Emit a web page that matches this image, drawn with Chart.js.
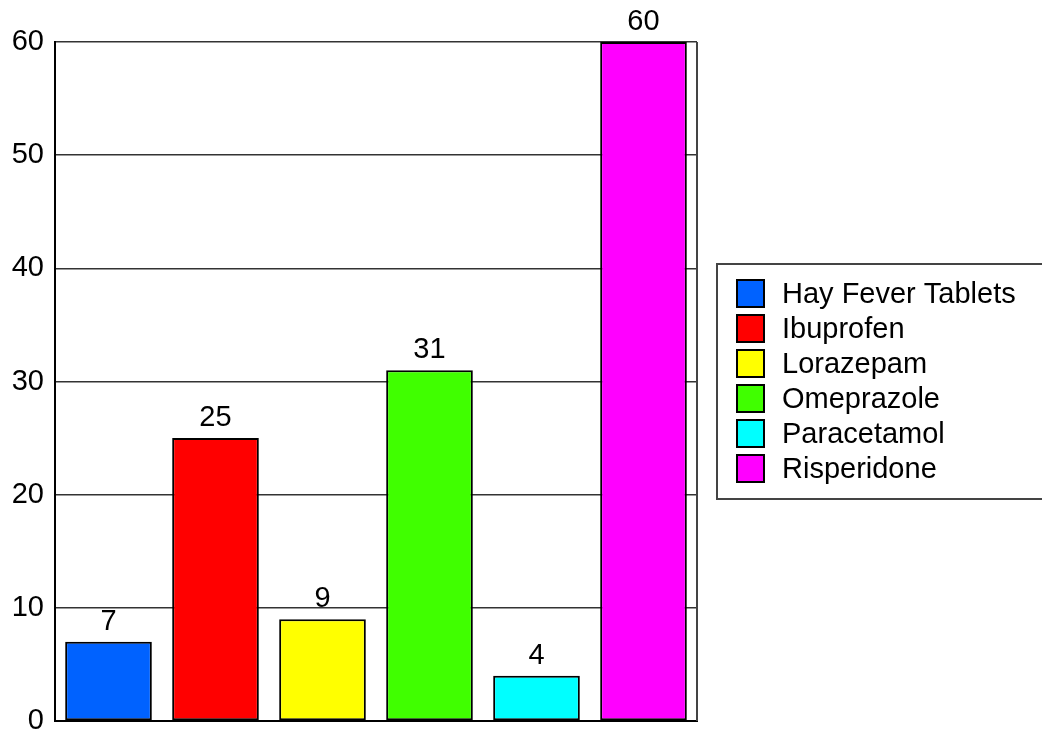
<!DOCTYPE html>
<html>
<head>
<meta charset="utf-8">
<title>Medication counts</title>
<script src="https://cdn.jsdelivr.net/npm/chart.js@4/dist/chart.umd.min.js"></script>
<style>
  html, body { margin: 0; padding: 0; background: #ffffff; }
  #wrap { width: 1042px; height: 735px; position: relative; }
</style>
</head>
<body>
<div id="wrap"><canvas id="medChart"></canvas></div>
<script>
// chart data
const medicines = ['Hay Fever Tablets', 'Ibuprofen', 'Lorazepam', 'Omeprazole', 'Paracetamol', 'Risperidone'];
const counts = [7, 25, 9, 31, 4, 60];
const barColors = ['#0062ff', '#ff0000', '#ffff00', '#40ff00', '#00ffff', '#ff00ff'];
const yTicks = [0, 10, 20, 30, 40, 50, 60];

const FONT = '"Liberation Sans", Arial, sans-serif';
const FONT_SIZE = 29;

// value labels above each bar
const valueLabels = {
  id: 'valueLabels',
  afterDatasetsDraw(chart) {
    const ctx = chart.ctx;
    const meta = chart.getDatasetMeta(0);
    ctx.save();
    ctx.font = FONT_SIZE + 'px ' + FONT;
    ctx.fillStyle = '#000';
    ctx.textAlign = 'center';
    ctx.textBaseline = 'alphabetic';
    meta.data.forEach((bar, i) => {
      ctx.fillText(String(counts[i]), bar.x, bar.y - 12);
    });
    ctx.restore();
  }
};

// right edge of the plot frame
const plotFrame = {
  id: 'plotFrame',
  beforeDatasetsDraw(chart) {
    const { ctx, chartArea } = chart;
    ctx.save();
    ctx.strokeStyle = '#444';
    ctx.lineWidth = 2;
    ctx.beginPath();
    ctx.moveTo(chartArea.right, chartArea.top);
    ctx.lineTo(chartArea.right, chartArea.bottom);
    ctx.stroke();
    ctx.restore();
  }
};

// boxed legend on the right side
const boxLegend = {
  id: 'boxLegend',
  afterDraw(chart) {
    const { ctx, chartArea } = chart;
    const left = chartArea.right + 20;
    const boxH = 235;
    const top = Math.round((chartArea.top + chartArea.bottom) / 2 - boxH / 2);
    ctx.save();
    ctx.strokeStyle = '#444';
    ctx.lineWidth = 2;
    ctx.strokeRect(left, top, chart.width - left + 10, boxH);

    ctx.font = FONT_SIZE + 'px ' + FONT;
    ctx.textAlign = 'left';
    ctx.textBaseline = 'middle';
    medicines.forEach((name, i) => {
      const y = top + 16 + i * 35;
      ctx.fillStyle = barColors[i];
      ctx.fillRect(left + 20, y, 27, 27);
      ctx.strokeStyle = '#000';
      ctx.lineWidth = 2;
      ctx.strokeRect(left + 20, y, 27, 27);
      ctx.fillStyle = '#000';
      ctx.fillText(name, left + 65, y + 15);
    });
    ctx.restore();
  }
};

new Chart(document.getElementById('medChart'), {
  type: 'bar',
  data: {
    labels: medicines,
    datasets: [{
      data: counts,
      backgroundColor: barColors,
      borderColor: '#000',
      borderWidth: 2,
      borderSkipped: false,
      barPercentage: 0.81,
      categoryPercentage: 1.0
    }]
  },
  options: {
    responsive: true,
    maintainAspectRatio: false,
    animation: false,
    layout: { padding: { top: 42, right: 345, bottom: 14, left: 0 } },
    plugins: {
      legend: { display: false },
      tooltip: { enabled: false }
    },
    scales: {
      x: {
        ticks: { display: false },
        grid: { display: false, drawTicks: false },
        border: { display: true, color: '#000', width: 2 },
        afterFit(scale) {
          scale.height = 0;
          scale.paddingLeft = 0;
          scale.paddingRight = 0;
        }
      },
      y: {
        min: 0,
        max: 60,
        afterBuildTicks(scale) { scale.ticks = yTicks.map(v => ({ value: v })); },
        ticks: {
          color: '#000',
          padding: 11,
          font: { family: FONT, size: FONT_SIZE }
        },
        grid: { color: '#333', lineWidth: 1.5, drawTicks: false },
        border: { display: true, color: '#000', width: 2 },
        afterFit(scale) {
          scale.width = 55;
          scale.paddingTop = 0;
          scale.paddingBottom = 0;
        }
      }
    }
  },
  plugins: [valueLabels, plotFrame, boxLegend]
});
</script>
</body>
</html>
